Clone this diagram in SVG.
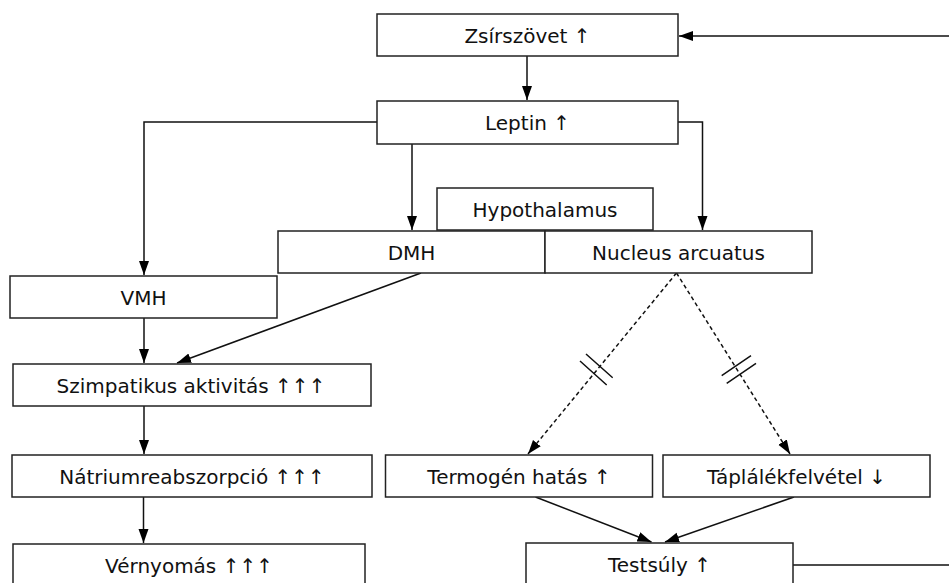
<svg xmlns="http://www.w3.org/2000/svg" width="949" height="583" viewBox="0 0 949 583">
<style>
  .box { fill: #ffffff; stroke: #222222; stroke-width: 1.5; }
  .lbl { font-family: "DejaVu Sans", "Noto Sans", sans-serif; font-size: 20px; fill: #111111; text-anchor: middle; }
  .ln { fill: none; stroke: #111111; stroke-width: 1.5; }
  .arr { marker-end: url(#ah); }
  .dash { stroke-dasharray: 4 3; }
</style>
<defs>
  <marker id="ah" markerUnits="userSpaceOnUse" markerWidth="15" markerHeight="11" refX="14" refY="5" orient="auto">
    <path d="M0,0 L14,5 L0,10 Z" fill="#000000"/>
  </marker>
</defs>
<rect width="949" height="583" fill="#ffffff"/>

<g id="connectors">
  <path class="ln arr" d="M949,36 H679"/>
  <path class="ln arr" d="M527,56 V100"/>
  <path class="ln arr" d="M377,122 H144 V275"/>
  <path class="ln arr" d="M412,144 V230"/>
  <path class="ln arr" d="M678,122 H702.5 V230"/>
  <path class="ln arr" d="M421,273 L177,363"/>
  <path class="ln arr" d="M144,318 V363"/>
  <path class="ln arr dash" d="M676.5,273 L528,454"/>
  <path class="ln arr dash" d="M676.5,273 L790,454"/>
  <path class="ln" d="M580,361 L606.7,385 M586,354 L612.7,377.7"/>
  <path class="ln" d="M721.7,375.7 L751,355.7 M726.7,383.3 L756,363.3"/>
  <path class="ln arr" d="M144,406 V454"/>
  <path class="ln arr" d="M143.5,497 V543"/>
  <path class="ln arr" d="M535.5,497 L651.5,542"/>
  <path class="ln arr" d="M794,497 L665,542"/>
  <path class="ln" d="M793,565 H949"/>
</g>

<g id="zsirszovet">
  <rect class="box" x="377" y="14" width="301" height="42"/>
  <text class="lbl" x="527.5" y="42.5">Zsírszövet ↑</text>
</g>
<g id="leptin">
  <rect class="box" x="377" y="101" width="301" height="43"/>
  <text class="lbl" x="527.5" y="130">Leptin ↑</text>
</g>
<g id="hypothalamus">
  <rect class="box" x="437" y="188" width="216" height="42"/>
  <text class="lbl" x="545" y="216.5">Hypothalamus</text>
</g>
<g id="dmh">
  <rect class="box" x="278" y="231" width="267" height="42"/>
  <text class="lbl" x="411.5" y="259.5">DMH</text>
</g>
<g id="nucleus">
  <rect class="box" x="545" y="231" width="267" height="42"/>
  <text class="lbl" x="678.5" y="259.5">Nucleus arcuatus</text>
</g>
<g id="vmh">
  <rect class="box" x="10" y="276" width="267" height="42"/>
  <text class="lbl" x="143.5" y="304.5">VMH</text>
</g>
<g id="szimpatikus">
  <rect class="box" x="13" y="364" width="358" height="42"/>
  <text class="lbl" x="191" y="393">Szimpatikus aktivitás ↑↑↑</text>
</g>
<g id="natrium">
  <rect class="box" x="12" y="455" width="360" height="42"/>
  <text class="lbl" x="192" y="484">Nátriumreabszorpció ↑↑↑</text>
</g>
<g id="vernyomas">
  <rect class="box" x="13" y="544" width="352" height="50"/>
  <text class="lbl" x="189" y="573">Vérnyomás ↑↑↑</text>
</g>
<g id="termogen">
  <rect class="box" x="385.5" y="455" width="267" height="42"/>
  <text class="lbl" x="519" y="484">Termogén hatás ↑</text>
</g>
<g id="taplalek">
  <rect class="box" x="663" y="455" width="267" height="42"/>
  <text class="lbl" x="796.5" y="484">Táplálékfelvétel ↓</text>
</g>
<g id="testsuly">
  <rect class="box" x="526" y="543" width="267" height="50"/>
  <text class="lbl" x="659.5" y="572">Testsúly ↑</text>
</g>
</svg>
